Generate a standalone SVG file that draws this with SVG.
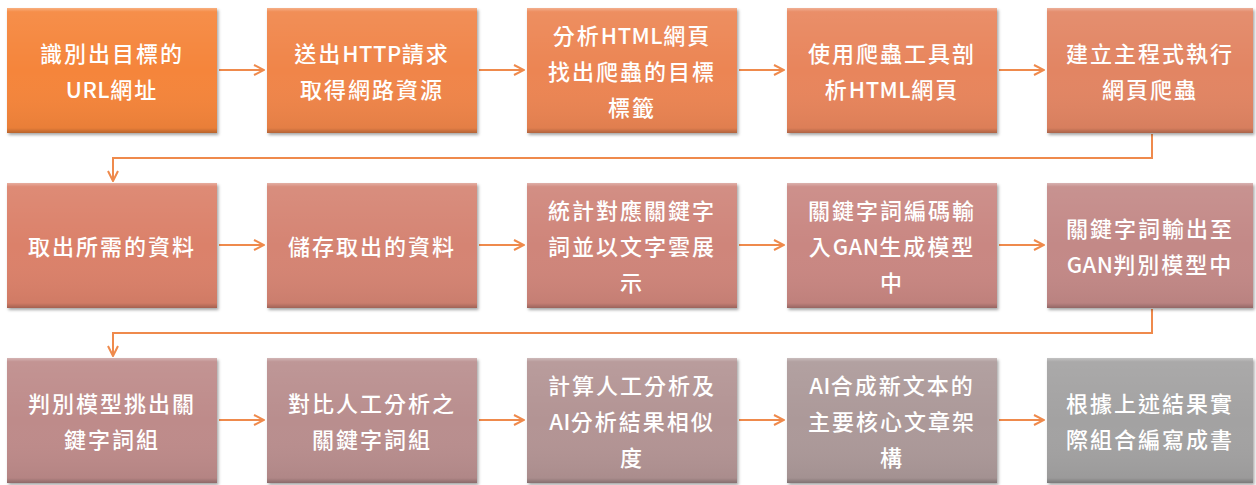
<svg xmlns="http://www.w3.org/2000/svg" width="1256" height="485" viewBox="0 0 1256 485">
<defs>
<style>
.t{font-family:"Noto Sans CJK TC","Noto Sans CJK SC",sans-serif;font-size:22px;font-weight:500;fill:#fff;text-anchor:middle;dominant-baseline:central;letter-spacing:2px}
.l{letter-spacing:0.5px}
.c{fill:none;stroke:#EF8A4C;stroke-width:2}
.bev{fill:url(#bevel)}
</style>
<linearGradient id="bevel" x1="0" y1="0" x2="0" y2="1">
<stop offset="0" stop-color="#fff" stop-opacity="0.35"/>
<stop offset="0.03" stop-color="#fff" stop-opacity="0.08"/>
<stop offset="0.5" stop-color="#fff" stop-opacity="0"/>
<stop offset="0.96" stop-color="#000" stop-opacity="0.05"/>
<stop offset="1" stop-color="#000" stop-opacity="0.25"/>
</linearGradient>
<filter id="sh" x="-5%" y="-5%" width="112%" height="115%">
<feDropShadow dx="1.5" dy="2" stdDeviation="1.5" flood-color="#000" flood-opacity="0.35"/>
</filter>
<marker id="ah" viewBox="0 0 12 12" refX="11" refY="6" markerWidth="12" markerHeight="12" markerUnits="userSpaceOnUse" orient="auto">
<path d="M1,1 L11,6 L1,11" fill="none" stroke="#EF8A4C" stroke-width="2"/>
</marker>
</defs>
<rect width="1256" height="485" fill="#fff"/>

<g id="connectors">
<line class="c" x1="219" y1="70" x2="264" y2="70" marker-end="url(#ah)"/>
<line class="c" x1="479" y1="70" x2="524" y2="70" marker-end="url(#ah)"/>
<line class="c" x1="739" y1="70" x2="784" y2="70" marker-end="url(#ah)"/>
<line class="c" x1="999" y1="70" x2="1044" y2="70" marker-end="url(#ah)"/>
<path class="c" d="M1152,134 V158 H113 V181" marker-end="url(#ah)"/>
<line class="c" x1="219" y1="245" x2="264" y2="245" marker-end="url(#ah)"/>
<line class="c" x1="479" y1="245" x2="524" y2="245" marker-end="url(#ah)"/>
<line class="c" x1="739" y1="245" x2="784" y2="245" marker-end="url(#ah)"/>
<line class="c" x1="999" y1="245" x2="1044" y2="245" marker-end="url(#ah)"/>
<path class="c" d="M1152,309 V333 H113 V356" marker-end="url(#ah)"/>
<line class="c" x1="219" y1="420" x2="264" y2="420" marker-end="url(#ah)"/>
<line class="c" x1="479" y1="420" x2="524" y2="420" marker-end="url(#ah)"/>
<line class="c" x1="739" y1="420" x2="784" y2="420" marker-end="url(#ah)"/>
<line class="c" x1="999" y1="420" x2="1044" y2="420" marker-end="url(#ah)"/>
</g>

<g id="n1"><rect x="7" y="8" width="210" height="125" fill="#F5853A" filter="url(#sh)"/><rect class="bev" x="7" y="8" width="210" height="125"/>
<text class="t" x="112" y="52">識別出目標的</text><text class="t" x="112" y="88"><tspan class="l">URL</tspan>網址</text></g>
<g id="n2"><rect x="267" y="8" width="210" height="125" fill="#F0854A" filter="url(#sh)"/><rect class="bev" x="267" y="8" width="210" height="125"/>
<text class="t" x="372" y="52">送出<tspan class="l">HTTP</tspan>請求</text><text class="t" x="372" y="88">取得網路資源</text></g>
<g id="n3"><rect x="527" y="8" width="210" height="125" fill="#EC8552" filter="url(#sh)"/><rect class="bev" x="527" y="8" width="210" height="125"/>
<text class="t" x="632" y="34">分析<tspan class="l">HTML</tspan>網頁</text><text class="t" x="632" y="70">找出爬蟲的目標</text><text class="t" x="632" y="106">標籤</text></g>
<g id="n4"><rect x="787" y="8" width="210" height="125" fill="#E8855C" filter="url(#sh)"/><rect class="bev" x="787" y="8" width="210" height="125"/>
<text class="t" x="892" y="52">使用爬蟲工具剖</text><text class="t" x="892" y="88">析<tspan class="l">HTML</tspan>網頁</text></g>
<g id="n5"><rect x="1047" y="8" width="206" height="125" fill="#E28564" filter="url(#sh)"/><rect class="bev" x="1047" y="8" width="206" height="125"/>
<text class="t" x="1150" y="52">建立主程式執行</text><text class="t" x="1150" y="88">網頁爬蟲</text></g>

<g id="n6"><rect x="7" y="183" width="210" height="125" fill="#DB816B" filter="url(#sh)"/><rect class="bev" x="7" y="183" width="210" height="125"/>
<text class="t" x="112" y="245">取出所需的資料</text></g>
<g id="n7"><rect x="267" y="183" width="210" height="125" fill="#D58473" filter="url(#sh)"/><rect class="bev" x="267" y="183" width="210" height="125"/>
<text class="t" x="372" y="245">儲存取出的資料</text></g>
<g id="n8"><rect x="527" y="183" width="210" height="125" fill="#CF857A" filter="url(#sh)"/><rect class="bev" x="527" y="183" width="210" height="125"/>
<text class="t" x="632" y="209">統計對應關鍵字</text><text class="t" x="632" y="245">詞並以文字雲展</text><text class="t" x="632" y="281">示</text></g>
<g id="n9"><rect x="787" y="183" width="210" height="125" fill="#C98782" filter="url(#sh)"/><rect class="bev" x="787" y="183" width="210" height="125"/>
<text class="t" x="892" y="209">關鍵字詞編碼輸</text><text class="t" x="892" y="245">入<tspan class="l">GAN</tspan>生成模型</text><text class="t" x="892" y="281">中</text></g>
<g id="n10"><rect x="1047" y="183" width="206" height="125" fill="#C38987" filter="url(#sh)"/><rect class="bev" x="1047" y="183" width="206" height="125"/>
<text class="t" x="1150" y="227">關鍵字詞輸出至</text><text class="t" x="1150" y="263"><tspan class="l">GAN</tspan>判別模型中</text></g>

<g id="n11"><rect x="7" y="358" width="210" height="125" fill="#BE8B8A" filter="url(#sh)"/><rect class="bev" x="7" y="358" width="210" height="125"/>
<text class="t" x="112" y="402">判別模型挑出關</text><text class="t" x="112" y="438">鍵字詞組</text></g>
<g id="n12"><rect x="267" y="358" width="210" height="125" fill="#B98E8E" filter="url(#sh)"/><rect class="bev" x="267" y="358" width="210" height="125"/>
<text class="t" x="372" y="402">對比人工分析之</text><text class="t" x="372" y="438">關鍵字詞組</text></g>
<g id="n13"><rect x="527" y="358" width="210" height="125" fill="#B39494" filter="url(#sh)"/><rect class="bev" x="527" y="358" width="210" height="125"/>
<text class="t" x="632" y="384">計算人工分析及</text><text class="t" x="632" y="420"><tspan class="l">AI</tspan>分析結果相似</text><text class="t" x="632" y="456">度</text></g>
<g id="n14"><rect x="787" y="358" width="210" height="125" fill="#AC9999" filter="url(#sh)"/><rect class="bev" x="787" y="358" width="210" height="125"/>
<text class="t" x="892" y="384"><tspan class="l">AI</tspan>合成新文本的</text><text class="t" x="892" y="420">主要核心文章架</text><text class="t" x="892" y="456">構</text></g>
<g id="n15"><rect x="1047" y="358" width="206" height="125" fill="#A3A2A2" filter="url(#sh)"/><rect class="bev" x="1047" y="358" width="206" height="125"/>
<text class="t" x="1150" y="402">根據上述結果實</text><text class="t" x="1150" y="438">際組合編寫成書</text></g>
</svg>
